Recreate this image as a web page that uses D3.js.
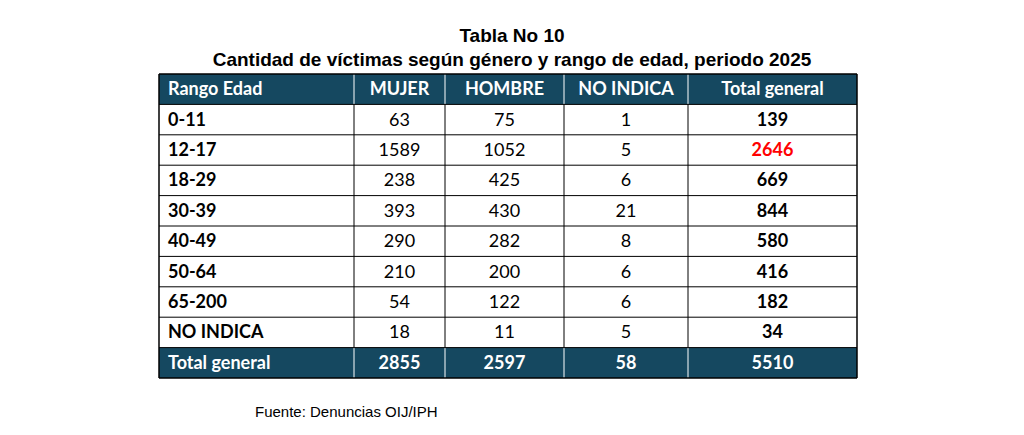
<!DOCTYPE html>
<html><head><meta charset="utf-8">
<script src="https://cdn.jsdelivr.net/npm/d3@7"></script>
<style>body{margin:0;background:#fff}</style>
</head><body>
<svg id="chart" width="1024" height="435"></svg>
<script>
const headers = ["Rango Edad", "MUJER", "HOMBRE", "NO INDICA", "Total general"];
const rangos = ["0-11", "12-17", "18-29", "30-39", "40-49", "50-64", "65-200", "NO INDICA"];
const mujer = [63, 1589, 238, 393, 290, 210, 54, 18];
const hombre = [75, 1052, 425, 430, 282, 200, 122, 11];
const noIndica = [1, 5, 6, 21, 8, 6, 6, 5];
const totales = [139, 2646, 669, 844, 580, 416, 182, 34];
const totalGeneral = ["Total general", 2855, 2597, 58, 5510];

const svg = d3.select("#chart");
const colEdges = [159, 354, 445, 564, 688, 857];
const tableTop = 74, rowH = 30.4;
const dark = "#154860";
const font = "Lato, 'Open Sans', sans-serif";

svg.append("text").attr("x", 512).attr("y", 42).attr("text-anchor", "middle")
  .attr("font-family", "'Liberation Sans', Arial").attr("font-weight", "bold").attr("font-size", 19)
  .text("Tabla No 10");
svg.append("text").attr("x", 512).attr("y", 66).attr("text-anchor", "middle")
  .attr("font-family", "'Liberation Sans', Arial").attr("font-weight", "bold").attr("font-size", 19)
  .text("Cantidad de víctimas según género y rango de edad, periodo 2025");

const rows = [headers]
  .concat(rangos.map((r, i) => [r, mujer[i], hombre[i], noIndica[i], totales[i]]))
  .concat([totalGeneral]);
const y = d3.scaleLinear().domain([0, rows.length]).range([tableTop, tableTop + rowH * rows.length]);

rows.forEach((row, ri) => {
  const isDark = ri === 0 || ri === rows.length - 1;
  if (isDark) svg.append("rect").attr("x", colEdges[0]).attr("y", y(ri))
    .attr("width", colEdges[5] - colEdges[0]).attr("height", rowH).attr("fill", dark);
  row.forEach((v, ci) => {
    const x0 = colEdges[ci], x1 = colEdges[ci + 1];
    svg.append("text")
      .attr("x", ci === 0 ? x0 + 9 : (x0 + x1) / 2)
      .attr("y", y(ri) + rowH / 2 + 6)
      .attr("text-anchor", ci === 0 ? "start" : "middle")
      .attr("font-family", font).attr("font-size", 18)
      .attr("font-weight", (isDark || ci === 0 || ci === 4) ? "bold" : "normal")
      .attr("fill", isDark ? "#fff" : (ri === 2 && ci === 4 ? "#ff0000" : "#000"))
      .text(v);
  });
});

// grid lines
const bottom = y(rows.length);
colEdges.forEach((x, i) => svg.append("line").attr("x1", x).attr("x2", x)
  .attr("y1", tableTop).attr("y2", bottom)
  .attr("stroke", (i === 0 || i === 5) ? "#000" : "#fff").attr("stroke-width", (i === 0 || i === 5) ? 1.5 : 1));
colEdges.slice(1, 5).forEach(x => svg.append("line").attr("x1", x).attr("x2", x)
  .attr("y1", y(1)).attr("y2", y(rows.length - 1)).attr("stroke", "#000").attr("stroke-width", 1));
d3.range(0, rows.length + 1).forEach(i => svg.append("line")
  .attr("x1", colEdges[0]).attr("x2", colEdges[5]).attr("y1", y(i)).attr("y2", y(i))
  .attr("stroke", "#000").attr("stroke-width", (i === 0 || i === rows.length) ? 1.5 : 1));

svg.append("text").attr("x", 255).attr("y", 417)
  .attr("font-family", "'Liberation Sans', Arial").attr("font-size", 15)
  .text("Fuente: Denuncias OIJ/IPH");
</script>
</body></html>
